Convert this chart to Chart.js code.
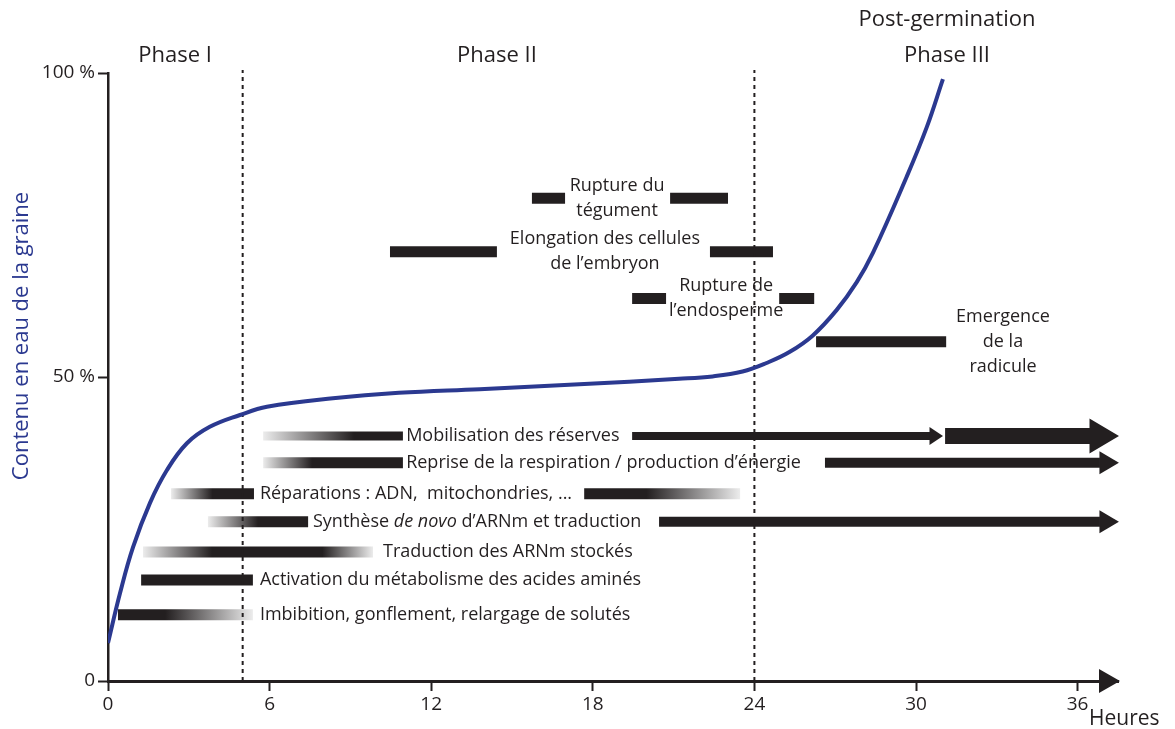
<!DOCTYPE html>
<html>
<head>
<meta charset="utf-8">
<title>Germination</title>
<script src="https://cdn.jsdelivr.net/npm/chart.js@4.4.0/dist/chart.umd.min.js"></script>
<style>
    body { margin: 0; background: #ffffff; }
    .chart_box { width: 1175px; height: 729px; }
</style>
</head>
<body>
<div class="chart_box"><canvas class="germ_canvas"></canvas></div>
<script>
// axes
const hourTicks = [0, 6, 12, 18, 24, 30, 36];
const waterTicks = [0, 50, 100];
const waterTickLabels = ['0', '50 %', '100 %'];
const phaseLimits = [5, 24];
const phaseNames = ['Phase I', 'Phase II', 'Post-germination\nPhase III'];
const phaseCenters = [2.49, 14.44, 31.15];

// water content of the seed (%) against time (h)
const curveHours = [0, 0.45, 0.93, 1.56, 2.19, 2.93, 3.78, 4.9, 5.9, 8.35, 10.8, 13.8, 17.5, 21.2, 22.45, 23.56, 24.45, 25.3, 26.16, 27.05, 27.8, 28.4, 29.65, 30.4, 31.0];
const curveWater = [6.25, 14.5, 22.0, 29.3, 34.7, 39.1, 41.8, 43.75, 45.1, 46.5, 47.4, 48.0, 48.8, 49.7, 50.1, 50.9, 52.3, 54.1, 56.8, 61.0, 65.6, 70.4, 82.9, 91.1, 99.0];

// processes: name, row level, time spans (h)
const processNames = [
    'Imbibition, gonflement, relargage de solutés',
    'Activation du métabolisme des acides aminés',
    'Traduction des ARNm stockés',
    'Synthèse *de novo* d’ARNm et traduction',
    'Réparations : ADN,  mitochondries, ...',
    'Reprise de la respiration / production d’énergie',
    'Mobilisation des réserves',
    'Emergence\nde la\nradicule',
    'Rupture de\nl’endosperme',
    'Elongation des cellules\nde l’embryon',
    'Rupture du\ntégument'
];
const processLevels = [10.9, 16.6, 21.2, 26.2, 30.8, 35.9, 40.3, 55.8, 62.9, 70.6, 79.4];
const processSpans = [
    [[0.37, 5.38]],
    [[1.23, 5.38]],
    [[1.30, 9.84]],
    [[3.71, 7.43], [20.46, 36.83]],
    [[2.34, 5.42], [17.68, 23.47]],
    [[5.76, 10.95], [26.62, 36.83]],
    [[5.76, 10.95], [19.46, 30.52], [31.08, 36.46]],
    [[26.29, 31.12]],
    [[19.46, 20.72], [24.92, 26.22]],
    [[10.47, 14.44], [22.35, 24.69]],
    [[15.74, 16.97], [20.87, 23.02]]
];
const labelHours = [5.64, 5.64, 10.21, 7.61, 5.64, 11.07, 11.07, 33.23, 22.95, 18.45, 18.9];

const ink = '#231f20';
const pale = '#ececec';
const blue = '#2b3990';
const face = '"Open Sans"';

const spanLooks = [
    ['fadeOut'],
    ['solid'],
    ['fadeBoth'],
    ['fadeIn', 'arrow'],
    ['fadeIn', 'fadeOutLate'],
    ['fadeInFast', 'arrow'],
    ['fadeInSlow', 'arrowThin', 'arrowWide'],
    ['solid'],
    ['solid', 'solid'],
    ['solid', 'solid'],
    ['solid', 'solid']
];
const looks = {
    solid: { width: 11 },
    fadeOut: { width: 11, stops: [[0, ink], [0.35, ink], [1, pale]] },
    fadeOutLate: { width: 11, stops: [[0, ink], [0.4, ink], [1, pale]] },
    fadeIn: { width: 11, stops: [[0, pale], [0.5, ink], [1, ink]] },
    fadeInFast: { width: 11, stops: [[0, pale], [0.35, ink], [1, ink]] },
    fadeInSlow: { width: 9, stops: [[0, pale], [0.65, ink], [1, ink]] },
    fadeBoth: { width: 11, stops: [[0, pale], [0.3, ink], [0.78, ink], [1, pale]] },
    arrow: { width: 10, head: [19, 11.5] },
    arrowThin: { width: 8, head: [13, 9] },
    arrowWide: { width: 16, head: [29, 17.5] }
};

function fade(stops) {
    return function(context) {
        const chart = context.chart;
        if (!chart.chartArea) return ink;
        const ds = chart.data.datasets[context.datasetIndex];
        const x0 = chart.scales.x.getPixelForValue(ds.data[0].x);
        const x1 = chart.scales.x.getPixelForValue(ds.data[1].x);
        const g = chart.ctx.createLinearGradient(x0, 0, x1, 0);
        stops.forEach(function(s) { g.addColorStop(s[0], s[1]); });
        return g;
    };
}

const datasets = [];

datasets.push({
    data: curveHours.map(function(h, i) { return { x: h, y: curveWater[i] }; }),
    borderColor: blue,
    borderWidth: 4,
    tension: 0.4,
    pointRadius: 0
});

phaseLimits.forEach(function(h) {
    datasets.push({
        data: [{ x: h, y: 0 }, { x: h, y: 100.5 }],
        borderColor: ink,
        borderWidth: 2,
        borderDash: [4, 4],
        pointRadius: 0,
        clip: false
    });
});

processSpans.forEach(function(spans, row) {
    spans.forEach(function(span, k) {
        const look = looks[spanLooks[row][k]];
        datasets.push({
            data: [{ x: span[0], y: processLevels[row] }, { x: span[1], y: processLevels[row] }],
            borderColor: look.stops ? fade(look.stops) : ink,
            borderWidth: look.width,
            borderCapStyle: 'butt',
            pointRadius: 0,
            clip: false,
            head: look.head
        });
    });
});

function richText(c, text, x, y, size) {
    const parts = text.split('*');
    let cx = x;
    parts.forEach(function(p, i) {
        c.font = (i % 2 ? 'italic ' : '') + size + 'px ' + face;
        c.fillText(p, cx, y);
        cx += c.measureText(p).width;
    });
}

const notes = {
    id: 'notes',
    afterDatasetsDraw(chart) {
        const c = chart.ctx;
        const xs = chart.scales.x;
        const ys = chart.scales.y;
        const area = chart.chartArea;
        c.save();

        // arrow heads at the end of the shafts
        chart.data.datasets.forEach(function(ds, i) {
            if (!ds.head) return;
            const pts = chart.getDatasetMeta(i).data;
            const p = pts[pts.length - 1];
            c.fillStyle = ink;
            c.beginPath();
            c.moveTo(p.x - 0.5, p.y - ds.head[1]);
            c.lineTo(p.x + ds.head[0], p.y);
            c.lineTo(p.x - 0.5, p.y + ds.head[1]);
            c.closePath();
            c.fill();
        });

        // time axis arrow
        c.fillStyle = ink;
        c.beginPath();
        c.moveTo(area.right - 19, area.bottom - 12);
        c.lineTo(area.right + 2, area.bottom);
        c.lineTo(area.right - 19, area.bottom + 12);
        c.closePath();
        c.fill();

        c.fillStyle = ink;
        c.textBaseline = 'middle';

        // process labels
        processNames.forEach(function(name, i) {
            const px = xs.getPixelForValue(labelHours[i]);
            const py = ys.getPixelForValue(processLevels[i]);
            const lines = name.split('\n');
            if (lines.length === 1) {
                c.textAlign = 'left';
                richText(c, name, px, py, 18);
            } else {
                c.textAlign = 'center';
                c.font = '18px ' + face;
                lines.forEach(function(line, k) {
                    c.fillText(line, px, py + (k - (lines.length - 1) / 2) * 25);
                });
            }
        });

        // phase headers
        c.textAlign = 'center';
        c.font = '22px ' + face;
        phaseNames.forEach(function(name, i) {
            const px = xs.getPixelForValue(phaseCenters[i]);
            const lines = name.split('\n');
            lines.forEach(function(line, k) {
                c.fillText(line, px, area.top - 17 - (lines.length - 1 - k) * 36);
            });
        });

        // axis titles
        c.textAlign = 'left';
        c.font = '21px ' + face;
        c.fillText('Heures', 1089, 719);

        c.translate(22, 336);
        c.rotate(-Math.PI / 2);
        c.textAlign = 'center';
        c.fillStyle = blue;
        c.font = '22px ' + face;
        c.fillText('Contenu en eau de la graine', 0, 0);
        c.restore();
    }
};

const ctx = document.querySelector('.germ_canvas');
const germ_canvas = new Chart(ctx, {
    type: 'line',
    data: { datasets: datasets },
    options: {
        responsive: true,
        maintainAspectRatio: false,
        animation: false,
        layout: { padding: { top: 73, right: 57, left: 0, bottom: 0 } },
        plugins: {
            legend: { display: false },
            tooltip: { enabled: false }
        },
        scales: {
            x: {
                type: 'linear',
                min: 0,
                max: 37.5,
                afterFit(scale) { scale.height = 48; },
                afterBuildTicks(scale) {
                    scale.ticks = hourTicks.map(function(v) { return { value: v }; });
                },
                border: { color: ink, width: 3 },
                grid: { drawOnChartArea: false, tickLength: 10, tickWidth: 2, tickColor: ink },
                ticks: {
                    color: ink,
                    autoSkip: false,
                    maxRotation: 0,
                    padding: 2,
                    font: { family: 'Open Sans', size: 19 }
                }
            },
            y: {
                type: 'linear',
                min: 0,
                max: 100,
                afterFit(scale) { scale.width = 108; },
                afterBuildTicks(scale) {
                    scale.ticks = waterTicks.map(function(v) { return { value: v }; });
                },
                border: { color: ink, width: 2.5 },
                grid: { drawOnChartArea: false, tickLength: 10, tickWidth: 2, tickColor: ink },
                ticks: {
                    color: ink,
                    autoSkip: false,
                    padding: 3,
                    font: { family: 'Open Sans', size: 19 },
                    callback: function(v) { return waterTickLabels[waterTicks.indexOf(v)]; }
                }
            }
        }
    },
    plugins: [notes]
});
</script>
</body>
</html>
